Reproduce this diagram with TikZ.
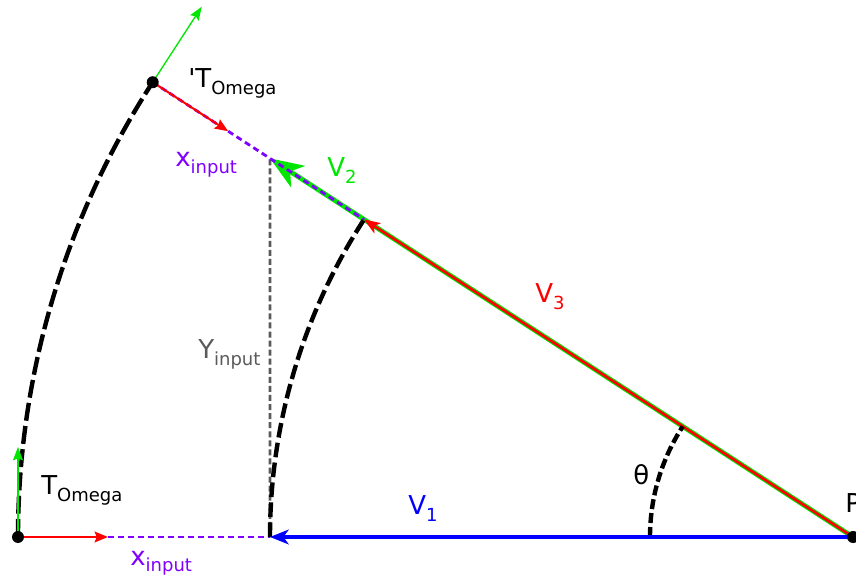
\documentclass[tikz,border=0pt]{standalone}
\usepackage{fontspec}
\newfontfamily\dv{DejaVu Sans}
\usetikzlibrary{arrows.meta,calc}
\definecolor{cgreen}{RGB}{0,230,0}
\definecolor{cpurple}{RGB}{128,0,255}
\definecolor{cred}{RGB}{255,0,0}
\definecolor{cblue}{RGB}{0,0,255}
\definecolor{cgray}{RGB}{90,90,90}
\newcommand{\lsub}[1]{\raisebox{-4.8pt}{\fontsize{13.5}{16}\selectfont #1}}
\begin{document}
\begin{tikzpicture}[x=0.75pt,y=0.75pt,
  lab/.style={font=\dv\fontsize{19.5}{23}\selectfont, inner sep=0pt, anchor=base west},
  arcline/.style={black, line width=3.3pt},
  ydash/.style={cgray, line width=2pt, dash pattern=on 4.5pt off 2.3pt},
  xdash/.style={cpurple, line width=2.1pt, dash pattern=on 4.5pt off 3pt},
  smallred/.style={cred, line width=1.5pt, -{Stealth[length=10pt,width=8pt,inset=1.5pt]}},
  smallgreen/.style={cgreen, line width=1pt, -{Stealth[length=10pt,width=7.5pt,inset=1.5pt]}},
  dot/.style={circle, fill=black, inner sep=0pt, minimum size=9pt}
]
\useasboundingbox (0,0) rectangle (856,578);
% key points
\coordinate (P) at (853,41);
\coordinate (T) at (18,41);
\coordinate (Tp) at ($(P)+(147:835)$);
\coordinate (A) at (270,41);
\coordinate (B) at ($(P)+(147:583)$);
\coordinate (C) at ($(P)+(147:695.2)$);
\coordinate (TR) at ($(T)+(90,0)$);
\coordinate (TG) at ($(T)+(0,90)$);
\coordinate (TpR) at ($(Tp)+(-33:90)$);
\coordinate (TpG) at ($(Tp)+(57:90)$);
\coordinate (D) at ($(P)+(180:203)$);
\coordinate (E) at ($(P)+(147:203)$);
% Y input
\draw[ydash] (A) -- (C);
% V2 and V3
\draw[cgreen, line width=3.6pt, -{Stealth[length=25pt,width=19pt,inset=7pt]}] (P) -- (C);
\draw[cred, line width=2pt, -{Stealth[length=12pt,width=9pt,inset=3pt]}] (P) -- (B);
% x input
\draw[xdash] (T) -- (A);
\draw[xdash] (Tp) -- (B);
% arcs
\draw[arcline, dash pattern=on 13.5pt off 4pt] (T) arc[start angle=180, end angle=147, radius=626.25pt];
\draw[arcline, dash pattern=on 11pt off 4pt] (A) arc[start angle=180, end angle=147, radius=437.25pt];
\draw[arcline, dash pattern=on 7.5pt off 3pt] (D) arc[start angle=180, end angle=147, radius=152.25pt];
% V1
\draw[cblue, line width=2.3pt, -{Stealth[length=14pt,width=11pt,inset=4pt]}] (P) -- (A);
% local frames
\draw[smallred] (T) -- (TR);
\draw[smallgreen] (T) -- (TG);
\draw[smallred] (Tp) -- (TpR);
\draw[smallgreen] (Tp) -- (TpG);
% dots
\node[dot] (Pd) at (P) {};
\node[dot] (Td) at (T) {};
\node[dot] (Tpd) at (Tp) {};
% labels
\node[lab] (lT) at (41,83) {T\lsub{Omega}};
\node[lab, text=cpurple] (lx1) at (130,13) {x\lsub{input}};
\node[lab] (lTp) at (188,490) {'T\lsub{Omega}};
\node[lab, text=cpurple] (lx2) at (175,411) {x\lsub{input}};
\node[lab, text=cgreen] (lV2) at (327,401) {V\lsub{2}};
\node[lab, text=cred] (lV3) at (535,275) {V\lsub{3}};
\node[lab, text=cgray] (lY) at (198,219) {Y\lsub{input}};
\node[lab, text=cblue] (lV1) at (408,63) {V\lsub{1}};
\node[lab] (lth) at (633,93) {θ};
\node[lab] (lP) at (845,65) {P};
\end{tikzpicture}
\end{document}
